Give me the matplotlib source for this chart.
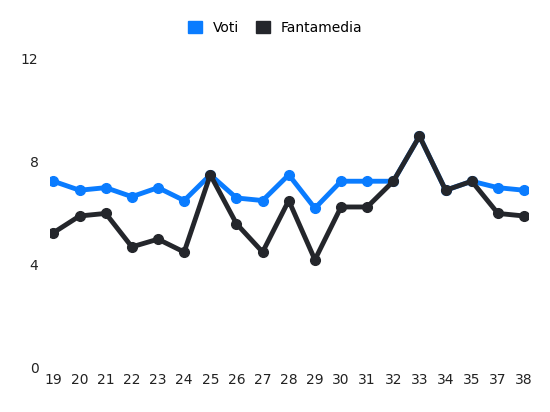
import matplotlib
matplotlib.use("Agg")
import matplotlib.pyplot as plt

giornate = ["19", "20", "21", "22", "23", "24", "25", "26", "27", "28", "29",
            "30", "31", "32", "33", "34", "35", "37", "38"]
voti = [7.25, 6.9, 7, 6.65, 7, 6.5, 7.5, 6.6, 6.5, 7.5, 6.2,
        7.25, 7.25, 7.25, 9, 6.9, 7.25, 7, 6.9]
fantamedia = [5.25, 5.9, 6, 4.7, 5, 4.5, 7.5, 5.6, 4.5, 6.5, 4.2,
              6.25, 6.25, 7.25, 9, 6.9, 7.25, 6, 5.9]

blue = "#0a7cff"
dark = "#24262b"

fig = plt.figure(figsize=(5.5, 4.12), dpi=100)
ax = fig.add_axes([0.09, 0.107, 0.87, 0.75])
x = range(len(giornate))
ax.plot(x, voti, color=blue, lw=3.5, marker="o", ms=7, label="Voti")
ax.plot(x, fantamedia, color=dark, lw=3.5, marker="o", ms=7, label="Fantamedia")

ax.set_ylim(0, 12)
ax.set_yticks([0, 4, 8, 12])
ax.set_xlim(-0.15, len(giornate) - 0.85)
ax.set_xticks(list(x))
ax.set_xticklabels(giornate)
for s in ax.spines.values():
    s.set_visible(False)
ax.tick_params(length=0, labelsize=10, colors="#222222")
ax.tick_params(axis="y", pad=8)

fig.legend(loc="upper center", bbox_to_anchor=(0.5, 0.98), ncol=2, frameon=False,
           handlelength=1, handleheight=1, fontsize=10, columnspacing=1.2,
           handles=[plt.Rectangle((0, 0), 1, 1, color=blue),
                    plt.Rectangle((0, 0), 1, 1, color=dark)],
           labels=["Voti", "Fantamedia"])

fig.savefig("out.png", dpi=100)
